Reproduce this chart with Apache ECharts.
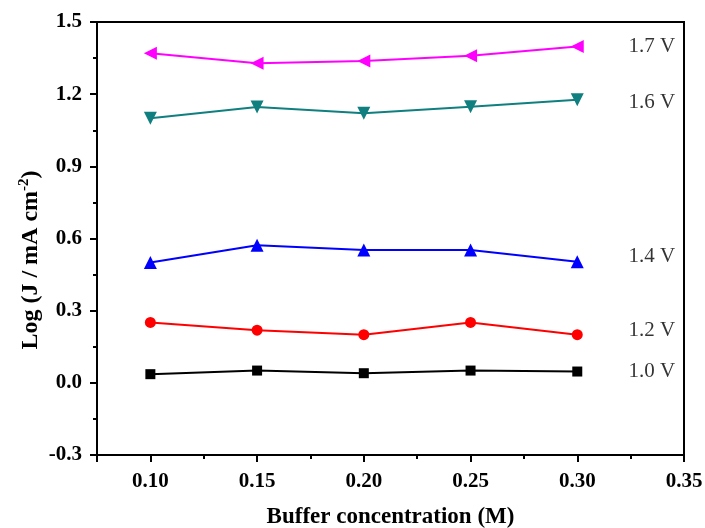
<!DOCTYPE html>
<html>
<head>
<meta charset="utf-8">
<script src="https://cdn.jsdelivr.net/npm/echarts@6/dist/echarts.min.js"></script>
<style>
  html, body { margin: 0; padding: 0; background: #fff; }
  #chart { width: 705px; height: 528px; }
</style>
</head>
<body>
<div id="chart"></div>
<script>
// ---- data ----
const conc = [0.10, 0.15, 0.20, 0.25, 0.30];           // Buffer concentration (M)
const j10 = [0.036, 0.051, 0.040, 0.051, 0.047];      // 1.0 V
const j12 = [0.251, 0.219, 0.200, 0.251, 0.200];      // 1.2 V
const j14 = [0.500, 0.572, 0.552, 0.552, 0.503];      // 1.4 V
const j16 = [1.100, 1.147, 1.121, 1.148, 1.177];      // 1.6 V
const j17 = [1.370, 1.329, 1.338, 1.360, 1.398];      // 1.7 V
const seriesNames = ['1.0 V', '1.2 V', '1.4 V', '1.6 V', '1.7 V'];
const annotX = 0.324;
const annotY = [0.047, 0.216, 0.525, 1.165, 1.40];
const yTicks = { min: -0.3, max: 1.5, interval: 0.3 };
const xRange = { min: 0.075, max: 0.35 };

const serif = '"Liberation Serif", "Times New Roman", serif';
const pair = arr => conc.map((c, i) => [c, arr[i]]);

const styles = [
  { data: j10, color: '#000000', symbol: 'rect', size: 10, rot: 0 },
  { data: j12, color: '#ff0000', symbol: 'circle', size: 11, rot: 0 },
  { data: j14, color: '#0000ff', symbol: 'triangle', size: 13, rot: 0 },
  { data: j16, color: '#0f7f7f', symbol: 'triangle', size: 13, rot: 180 },
  { data: j17, color: '#ff00ff', symbol: 'triangle', size: 13, rot: 90 }
];

const series = styles.map((s, i) => ({
  name: seriesNames[i],
  type: 'line',
  xAxisIndex: 0,
  data: pair(s.data),
  symbol: s.symbol,
  symbolSize: s.size,
  symbolRotate: s.rot,
  showSymbol: true,
  lineStyle: { color: s.color, width: 2 },
  itemStyle: { color: s.color },
  animation: false,
  z: 3
}));

series.push({
  type: 'scatter',
  xAxisIndex: 0,
  data: annotY.map((y, i) => ({ value: [annotX, y], name: seriesNames[i] })),
  symbolSize: 0,
  silent: true,
  animation: false,
  label: {
    show: true,
    position: 'right',
    distance: 0,
    formatter: p => p.name,
    fontFamily: serif,
    fontSize: 21,
    color: '#000'
  }
});

const chart = echarts.init(document.getElementById('chart'), null, { renderer: 'canvas' });
chart.setOption({
  backgroundColor: '#fff',
  animation: false,
  grid: {
    left: 97, right: 21, top: 22, bottom: 73,
    containLabel: false,
    outerBoundsMode: 'none',
    show: true, borderColor: '#000', borderWidth: 2, backgroundColor: 'transparent'
  },
  graphic: [{
    type: 'text',
    x: 31, y: 260,
    rotation: Math.PI / 2,
    silent: true,
    style: {
      text: 'Log (J / mA cm{sup|-2})',
      fontFamily: serif, fontWeight: 'bold', fontSize: 24, fill: '#000',
      align: 'center', verticalAlign: 'middle',
      rich: {
        sup: { fontFamily: serif, fontWeight: 'bold', fontSize: 15, fill: '#000', verticalAlign: 'top', padding: [0, 0, 14, 0] }
      }
    }
  }],
  xAxis: [
    {
      type: 'value', min: xRange.min, max: xRange.max, interval: 0.05,
      position: 'bottom',
      axisLine: { show: true, onZero: false, lineStyle: { color: '#000', width: 2 } },
      axisTick: { show: true, inside: false, length: 4, lineStyle: { color: '#000', width: 2 } },
      axisLabel: { show: false },
      splitLine: { show: false },
      name: 'Buffer concentration (M)',
      nameLocation: 'middle',
      nameGap: 51,
      nameTextStyle: { fontFamily: serif, fontWeight: 'bold', fontSize: 23, color: '#000' }
    },
    {
      // inverse helper axis: carries major ticks & labels at 0.10 ... 0.35
      type: 'value', inverse: true, min: 0, max: xRange.max - xRange.min, interval: 0.05,
      position: 'bottom',
      axisLine: { show: true, onZero: false, lineStyle: { color: '#000', width: 2 } },
      axisTick: { show: true, inside: false, length: 7, lineStyle: { color: '#000', width: 2 } },
      axisLabel: {
        show: true, margin: 16,
        formatter: v => { const r = xRange.max - v; return r < 0.09 ? '' : r.toFixed(2); },
        fontFamily: serif, fontWeight: 'bold', fontSize: 21, color: '#000'
      },
      splitLine: { show: false }
    }
  ],
  yAxis: {
    type: 'value', min: yTicks.min, max: yTicks.max, interval: yTicks.interval,
    position: 'left',
    axisLine: { show: true, onZero: false, lineStyle: { color: '#000', width: 2 } },
    axisTick: { show: true, inside: false, length: 7, lineStyle: { color: '#000', width: 2 } },
    minorTick: { show: true, splitNumber: 2, length: 4, lineStyle: { color: '#000', width: 2 } },
    axisLabel: {
      margin: 15, formatter: v => v.toFixed(1),
      fontFamily: serif, fontWeight: 'bold', fontSize: 21, color: '#000'
    },
    splitLine: { show: false }
  },
  series: series
});
</script>
</body>
</html>
